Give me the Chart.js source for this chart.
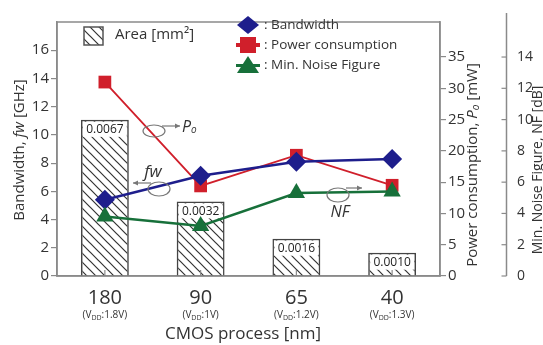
<!DOCTYPE html>
<html><head><meta charset="utf-8">
<script src="https://cdn.jsdelivr.net/npm/chart.js@4/dist/chart.umd.min.js"></script>
<style>html,body{margin:0;padding:0;background:#fff;}#wrap{width:543px;height:345px;}</style>
</head><body><div id="wrap"><canvas id="c" width="543" height="345"></canvas></div>
<script>
// ---- data ----
const categories = ['180', '90', '65', '40'];
const vddValues = ['1.8V', '1V', '1.2V', '1.3V'];
const areaValues = [0.0067, 0.0032, 0.0016, 0.0010];
const areaLabels = ['0.0067', '0.0032', '0.0016', '0.0010'];
const bandwidthValues = [5.4, 7.1, 8.1, 8.3];
const powerValues = [31.0, 14.4, 19.3, 14.5];
const noiseFigureValues = [3.8, 3.2, 5.3, 5.4];
const bandwidthTicks = [0, 2, 4, 6, 8, 10, 12, 14, 16];
const powerTicks = [0, 5, 10, 15, 20, 25, 30, 35];
const noiseTicks = [0, 2, 4, 6, 8, 10, 12, 14];

const FONT = '"Open Sans", "DejaVu Sans", sans-serif';
const BLUE = '#1e1e8c', RED = '#d01f2b', GREEN = '#17703a', GRAY = '#8a8a8a', TXT = '#333';

function makeHatch() {
  const s = 9, c = document.createElement('canvas');
  c.width = s; c.height = s;
  const x = c.getContext('2d');
  x.strokeStyle = '#333'; x.lineWidth = 1.2;
  x.beginPath();
  x.moveTo(-1, -1); x.lineTo(s + 1, s + 1);
  x.moveTo(-1, s - 1); x.lineTo(1, s + 1);
  x.moveTo(s - 1, -1); x.lineTo(s + 1, 1);
  x.stroke();
  return document.getElementById('c').getContext('2d').createPattern(c, 'repeat');
}
const hatch = makeHatch();

function setTicks(arr) { return (scale) => { scale.ticks = arr.map(v => ({ value: v })); }; }

function drawRuns(ctx, runs, x, y, align) {
  let total = 0;
  runs.forEach(r => { ctx.font = r.font; total += ctx.measureText(r.t).width; });
  let cx = align === 'center' ? x - total / 2 : x;
  ctx.textAlign = 'left';
  runs.forEach(r => {
    ctx.font = r.font;
    ctx.fillText(r.t, cx, y + (r.dy || 0));
    cx += ctx.measureText(r.t).width;
  });
}

function ellipseArrow(ctx, cx, cy, rx, ry, x1, y1, x2, y2) {
  ctx.save();
  ctx.strokeStyle = '#777'; ctx.fillStyle = '#777'; ctx.lineWidth = 1.2;
  ctx.beginPath(); ctx.ellipse(cx, cy, rx, ry, 0, 0, Math.PI * 2); ctx.stroke();
  ctx.beginPath(); ctx.moveTo(x1, y1); ctx.lineTo(x2, y2); ctx.stroke();
  const d = Math.sign(x2 - x1);
  ctx.beginPath(); ctx.moveTo(x2, y2); ctx.lineTo(x2 - d * 5, y2 - 2.5); ctx.lineTo(x2 - d * 5, y2 + 2.5); ctx.closePath(); ctx.fill();
  ctx.restore();
}

const custom = {
  id: 'custom',
  afterDatasetDraw(chart, args) {
    if (args.index !== 3) return;
    const ctx = chart.ctx;
    const meta = chart.getDatasetMeta(3);
    ctx.save();
    meta.data.forEach((bar, i) => {
      const w = bar.width, left = bar.x - w / 2;
      ctx.fillStyle = '#fff';
      ctx.fillRect(left + 2, bar.y + 2, w - 4, 15);
      ctx.fillStyle = '#222';
      ctx.font = '12px ' + FONT;
      ctx.textAlign = 'center'; ctx.textBaseline = 'middle';
      ctx.fillText(areaLabels[i], bar.x, bar.y + 10);
    });
    ctx.restore();
  },
  afterDraw(chart) {
    const ctx = chart.ctx, a = chart.chartArea;
    const xs = chart.scales.x;
    ctx.save();
    // frame
    ctx.strokeStyle = GRAY; ctx.lineWidth = 1.5;
    ctx.strokeRect(a.left, a.top, a.right - a.left, a.bottom - a.top);
    // NF axis line (extends above plot) and inward ticks
    const nf = chart.scales.yN;
    const nx = nf.left + 0.5;
    ctx.beginPath(); ctx.moveTo(nx, a.bottom); ctx.lineTo(nx, 13); ctx.stroke();
    ctx.lineWidth = 1.2;
    noiseTicks.forEach(v => {
      const y = nf.getPixelForValue(v);
      ctx.beginPath(); ctx.moveTo(nx - 5, y); ctx.lineTo(nx, y); ctx.stroke();
    });
    // inner ticks at category centers
    categories.forEach((c, i) => {
      const x = xs.getPixelForValue(i);
      ctx.beginPath(); ctx.moveTo(x, a.bottom); ctx.lineTo(x, a.bottom - 6); ctx.stroke();
    });
    // x labels
    ctx.fillStyle = TXT; ctx.textBaseline = 'alphabetic';
    categories.forEach((c, i) => {
      const x = xs.getPixelForValue(i);
      ctx.textAlign = 'center';
      ctx.font = '20px ' + FONT;
      ctx.fillText(c, x, 304);
      drawRuns(ctx, [
        { t: '(V', font: '10px ' + FONT },
        { t: 'DD', font: '7px ' + FONT, dy: 2 },
        { t: ':' + vddValues[i] + ')', font: '10px ' + FONT }
      ], x, 318, 'center');
    });
    ctx.textAlign = 'center';
    ctx.font = '17px ' + FONT;
    ctx.fillText('CMOS process [nm]', 243, 339);
    // axis titles
    const it15 = 'italic 15px ' + FONT, n15 = '15px ' + FONT;
    ctx.save(); ctx.translate(24, 150); ctx.rotate(-Math.PI / 2);
    drawRuns(ctx, [{ t: 'Bandwidth, ', font: n15 }, { t: 'fw', font: it15 }, { t: ' [GHz]', font: n15 }], 0, 0, 'center');
    ctx.restore();
    ctx.save(); ctx.translate(477, 165); ctx.rotate(-Math.PI / 2);
    drawRuns(ctx, [{ t: 'Power consumption, ', font: n15 }, { t: 'P', font: it15 }, { t: 'o', font: 'italic 10px ' + FONT, dy: 2 }, { t: ' [mW]', font: n15 }], 0, 0, 'center');
    ctx.restore();
    ctx.save(); ctx.translate(541.5, 170); ctx.rotate(-Math.PI / 2);
    drawRuns(ctx, [{ t: 'Min. Noise Figure, NF [dB]', font: '14px ' + FONT }], 0, 0, 'center');
    ctx.restore();
    // legend: area
    ctx.fillStyle = hatch; ctx.fillRect(84, 27, 19, 18);
    ctx.strokeStyle = '#555'; ctx.lineWidth = 1.5; ctx.strokeRect(84, 27, 19, 18);
    ctx.fillStyle = TXT; ctx.font = '15px ' + FONT; ctx.textAlign = 'left'; ctx.textBaseline = 'middle';
    ctx.fillText('Area [mm²]', 115, 35);
    // legend markers
    const lx = 248;
    ctx.fillStyle = BLUE; ctx.beginPath();
    ctx.moveTo(lx, 16); ctx.lineTo(lx + 11, 25); ctx.lineTo(lx, 34); ctx.lineTo(lx - 11, 25); ctx.closePath(); ctx.fill();
    ctx.fillStyle = RED; ctx.fillRect(lx - 8, 37, 16, 16);
    ctx.fillRect(lx - 12, 43, 24, 4);
    ctx.fillStyle = GREEN; ctx.beginPath();
    ctx.moveTo(lx, 56); ctx.lineTo(lx + 11, 73); ctx.lineTo(lx - 11, 73); ctx.closePath(); ctx.fill();
    ctx.fillRect(lx - 12, 64, 24, 3);
    ctx.fillStyle = TXT; ctx.font = '13.5px ' + FONT;
    ctx.fillText(': Bandwidth', 264, 25);
    ctx.fillText(': Power consumption', 264, 45);
    ctx.fillText(': Min. Noise Figure', 264, 65);
    // annotations
    ellipseArrow(ctx, 154, 131, 11, 6, 162, 126, 180, 126);
    ctx.fillStyle = TXT;
    drawRuns(ctx, [{ t: 'P', font: 'italic 16px ' + FONT }, { t: 'o', font: 'italic 10px ' + FONT, dy: 3 }], 182, 127, 'left');
    ellipseArrow(ctx, 159, 189, 11, 7, 151, 183, 133, 183);
    ctx.fillStyle = TXT;
    drawRuns(ctx, [{ t: 'fw', font: 'italic 17px ' + FONT }], 153, 172, 'center');
    ellipseArrow(ctx, 338, 195, 11, 7, 346, 188, 362, 188);
    ctx.fillStyle = TXT;
    drawRuns(ctx, [{ t: 'NF', font: 'italic 16px ' + FONT }], 340, 212, 'center');
    ctx.restore();
  }
};

new Chart(document.getElementById('c'), {
  type: 'bar',
  data: {
    labels: categories,
    datasets: [
      { type: 'line', label: 'Bandwidth', data: bandwidthValues, yAxisID: 'y', order: 2,
        borderColor: BLUE, backgroundColor: BLUE, borderWidth: 2.5, pointStyle: 'rectRot', pointRadius: 10, pointBorderWidth: 0 },
      { type: 'line', label: 'Power consumption', data: powerValues, yAxisID: 'yP', order: 3,
        borderColor: RED, backgroundColor: RED, borderWidth: 1.8, pointStyle: 'rect', pointRadius: 9, pointBorderWidth: 0 },
      { type: 'line', label: 'Min. Noise Figure', data: noiseFigureValues, yAxisID: 'yN', order: 1,
        borderColor: GREEN, backgroundColor: GREEN, borderWidth: 2.5, pointStyle: 'triangle', pointRadius: 10, pointBorderWidth: 0 },
      { type: 'bar', label: 'Area', data: areaValues, yAxisID: 'yA', order: 10,
        backgroundColor: hatch, borderColor: '#444', borderWidth: 1.5, barPercentage: 1, categoryPercentage: 0.5 }
    ]
  },
  options: {
    responsive: false, animation: false, devicePixelRatio: 1,
    layout: { padding: { top: 22, left: 0, right: 0, bottom: 0 } },
    plugins: { legend: { display: false }, tooltip: { enabled: false } },
    scales: {
      x: { offset: true, ticks: { display: false }, grid: { display: false },
           border: { display: true, color: GRAY, width: 1.5 },
           afterFit: s => { s.height = 69; } },
      y: { position: 'left', min: 0, max: 18, afterBuildTicks: setTicks(bandwidthTicks),
           ticks: { color: TXT, font: { family: FONT, size: 15 }, padding: 2 },
           grid: { drawOnChartArea: false, tickLength: 6, color: GRAY, lineWidth: 1.2 },
           border: { color: GRAY, width: 1.5 },
           afterFit: s => { s.width = 57; } },
      yP: { position: 'right', min: 0, max: 40.6, afterBuildTicks: setTicks(powerTicks),
           ticks: { color: TXT, font: { family: FONT, size: 15 }, padding: 2 },
           grid: { drawOnChartArea: false, tickLength: 6, color: GRAY, lineWidth: 1.2 },
           border: { color: GRAY, width: 1.5 },
           afterFit: s => { s.width = 66; } },
      yN: { position: 'right', min: 0, max: 16.24, afterBuildTicks: setTicks(noiseTicks),
           ticks: { color: TXT, font: { family: FONT, size: 14 }, padding: 3 },
           grid: { display: false },
           border: { display: false },
           afterFit: s => { s.width = 37; } },
      yA: { display: false, min: 0, max: 0.0109 }
    }
  },
  plugins: [custom]
});
</script></body></html>
